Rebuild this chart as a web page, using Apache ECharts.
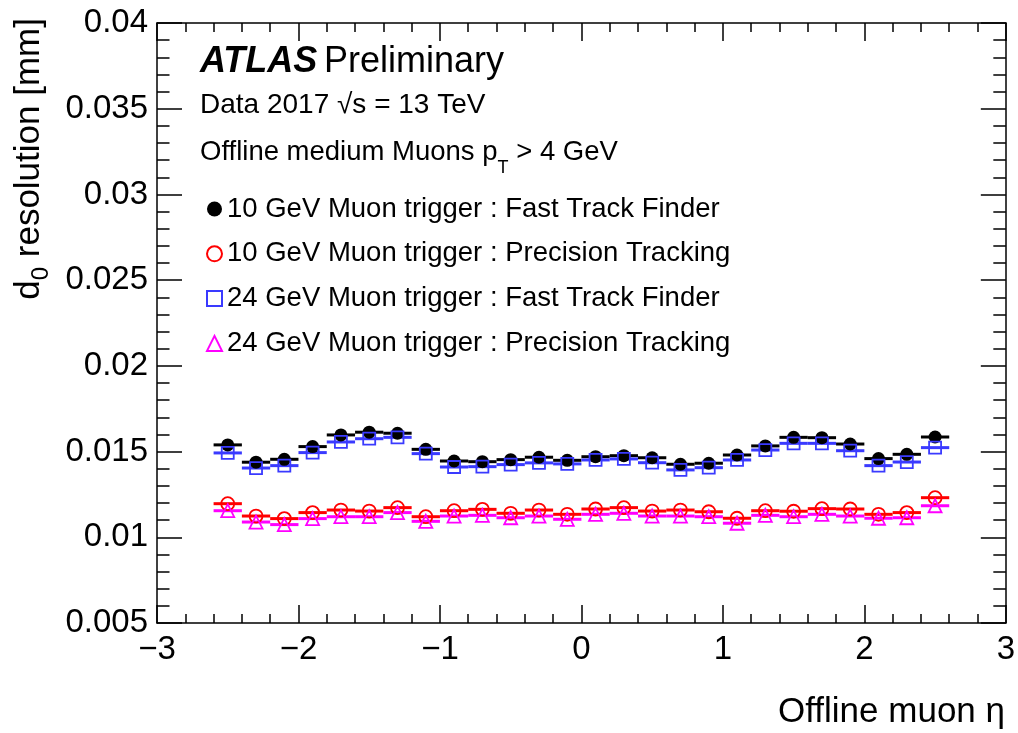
<!DOCTYPE html>
<html><head><meta charset="utf-8">
<script src="https://cdn.jsdelivr.net/npm/echarts@6/dist/echarts.min.js"></script>
<style>html,body{margin:0;padding:0;background:#fff}#c{width:1018px;height:733px}</style>
</head><body><div id="c"></div>
<script>
// ---- data ----
const eta = [-2.5,-2.3,-2.1,-1.9,-1.7,-1.5,-1.3,-1.1,-0.9,-0.7,-0.5,-0.3,-0.1,
             0.1,0.3,0.5,0.7,0.9,1.1,1.3,1.5,1.7,1.9,2.1,2.3,2.5];
const binWidth = 0.2;
const ftf10 = [0.01539,0.01438,0.01455,0.01529,0.01597,0.01613,0.01607,0.01513,0.01445,0.01441,0.01453,0.01467,0.01449,
               0.01470,0.01476,0.01464,0.01426,0.01432,0.01480,0.01533,0.01583,0.01581,0.01544,0.01459,0.01484,0.01585];
const prec10 = [0.01196,0.01124,0.01109,0.01144,0.01159,0.01153,0.01173,0.01120,0.01155,0.01163,0.01140,0.01159,0.01134,
                0.01165,0.01173,0.01153,0.01159,0.01149,0.01111,0.01155,0.01152,0.01167,0.01165,0.01134,0.01144,0.01231];
const ftf24 = [0.01492,0.01404,0.01418,0.01494,0.01556,0.01575,0.01583,0.01488,0.01410,0.01412,0.01424,0.01434,0.01428,
               0.01451,0.01457,0.01435,0.01393,0.01406,0.01451,0.01509,0.01548,0.01548,0.01505,0.01418,0.01439,0.01523];
const prec24 = [0.01155,0.01089,0.01074,0.01109,0.01120,0.01120,0.01144,0.01093,0.01124,0.01128,0.01114,0.01124,0.01105,
                0.01134,0.01140,0.01124,0.01124,0.01120,0.01082,0.01128,0.01120,0.01134,0.01124,0.01111,0.01114,0.01184];
const seriesNames = [
  '10 GeV Muon trigger : Fast Track Finder',
  '10 GeV Muon trigger : Precision Tracking',
  '24 GeV Muon trigger : Fast Track Finder',
  '24 GeV Muon trigger : Precision Tracking'
];
const xMin = -3, xMax = 3, xStep = 1;
const yMin = 0.005, yMax = 0.04, yStep = 0.005;

// ---- chart ----
const FONT = 'Liberation Sans, Arial, Helvetica, sans-serif';
const chart = echarts.init(document.getElementById('c'), null, {renderer: 'canvas'});

function pairs(vals) { return eta.map((e, i) => [e, vals[i]]); }

function errBars(name, vals, color) {
  return {
    type: 'custom', name: name + ' (bin)', silent: true,
    data: pairs(vals),
    renderItem: function (params, api) {
      const x = api.value(0), y = api.value(1);
      const p1 = api.coord([x - binWidth / 2, y]);
      const p2 = api.coord([x + binWidth / 2, y]);
      return {type: 'line', shape: {x1: p1[0], y1: p1[1], x2: p2[0], y2: p2[1]},
              style: {stroke: color, lineWidth: 3}};
    }
  };
}
function markers(name, vals, symbol, color, filled, size) {
  return {
    type: 'scatter', name: name, data: pairs(vals), symbol: symbol, symbolSize: size,
    itemStyle: filled ? {color: color, opacity: 1}
                      : {color: 'rgba(255,255,255,0)', borderColor: color, borderWidth: 1.8, opacity: 1},
    emphasis: {disabled: true}
  };
}

const tickStyle = {color: '#000', width: 1.5};
function xAx(pos) {
  return {
    type: 'value', min: xMin, max: xMax, interval: xStep, position: pos,
    axisLine: {show: true, onZero: false, lineStyle: tickStyle},
    axisTick: {show: true, inside: true, length: 18, lineStyle: tickStyle},
    minorTick: {show: true, splitNumber: 5, length: 9, lineStyle: tickStyle},
    splitLine: {show: false},
    axisLabel: {show: pos === 'bottom', fontFamily: FONT, fontSize: 33, color: '#000', margin: 10,
      formatter: v => String(v).replace('-', '\u2212')}
  };
}
function yAx(pos) {
  return {
    type: 'value', min: yMin, max: yMax, interval: yStep, position: pos,
    axisLine: {show: true, onZero: false, lineStyle: tickStyle},
    axisTick: {show: true, inside: true, length: 25, lineStyle: tickStyle},
    minorTick: {show: true, splitNumber: 5, length: 12.5, lineStyle: tickStyle},
    splitLine: {show: false},
    axisLabel: {show: pos === 'left', fontFamily: FONT, fontSize: 33, color: '#000', margin: 9,
      formatter: v => String(parseFloat(v.toFixed(4)))}
  };
}

const option = {
  animation: false,
  backgroundColor: '#fff',
  grid: {left: 157, right: 12, top: 23, bottom: 110, containLabel: false},
  xAxis: [xAx('bottom'), xAx('top')],
  yAxis: [yAx('left'), yAx('right')],
  legend: {
    data: seriesNames, orient: 'vertical', left: 201, top: 189,
    itemWidth: 15, itemHeight: 15, itemGap: 14.8, selectedMode: false,
    textStyle: {fontFamily: FONT, fontSize: 27.5, color: '#000', lineHeight: 30}
  },
  graphic: [
    {type: 'text', x: 200, y: 62, style: {
      text: '{b|ATLAS}  {n|Preliminary}', verticalAlign: 'middle',
      rich: {
        b: {fontFamily: FONT, fontSize: 36, fontWeight: 'bold', fontStyle: 'italic', fill: '#000'},
        n: {fontFamily: FONT, fontSize: 36, fill: '#000'},
      }}},
    {type: 'text', x: 200, y: 105, style: {
      text: 'Data 2017 \u221As = 13 TeV', fontFamily: FONT, fontSize: 28, fill: '#000', verticalAlign: 'middle'}},
    {type: 'text', x: 200, y: 152, style: {
      text: '{a|Offline medium Muons p}{s|T}{a| > 4 GeV}', verticalAlign: 'middle',
      rich: {
        a: {fontFamily: FONT, fontSize: 27.5, fill: '#000', lineHeight: 51, verticalAlign: 'middle'},
        s: {fontFamily: FONT, fontSize: 18, fill: '#000', lineHeight: 19, verticalAlign: 'bottom'}
      }}},
    {type: 'text', x: 1005, y: 712, style: {
      text: 'Offline muon \u03B7', fontFamily: FONT, fontSize: 35, fill: '#000', align: 'right', verticalAlign: 'middle'}},
    {type: 'text', x: 29, y: 18, rotation: Math.PI / 2, style: {
      text: '{a|d}{s|0}{a| resolution [mm]}', align: 'right', verticalAlign: 'middle',
      rich: {
        a: {fontFamily: FONT, fontSize: 35, fill: '#000', lineHeight: 48, verticalAlign: 'middle'},
        s: {fontFamily: FONT, fontSize: 24, fill: '#000', lineHeight: 24, verticalAlign: 'bottom'}
      }}}
  ],
  series: [
    errBars(seriesNames[0], ftf10, '#000000'),
    markers(seriesNames[0], ftf10, 'circle', '#000000', true, 13),
    errBars(seriesNames[1], prec10, '#ff0000'),
    markers(seriesNames[1], prec10, 'circle', '#ff0000', false, 13),
    errBars(seriesNames[2], ftf24, '#3a3aff'),
    markers(seriesNames[2], ftf24, 'rect', '#3a3aff', false, 12),
    errBars(seriesNames[3], prec24, '#ff00ff'),
    markers(seriesNames[3], prec24, 'triangle', '#ff00ff', false, 13)
  ]
};
chart.setOption(option);
</script></body></html>
